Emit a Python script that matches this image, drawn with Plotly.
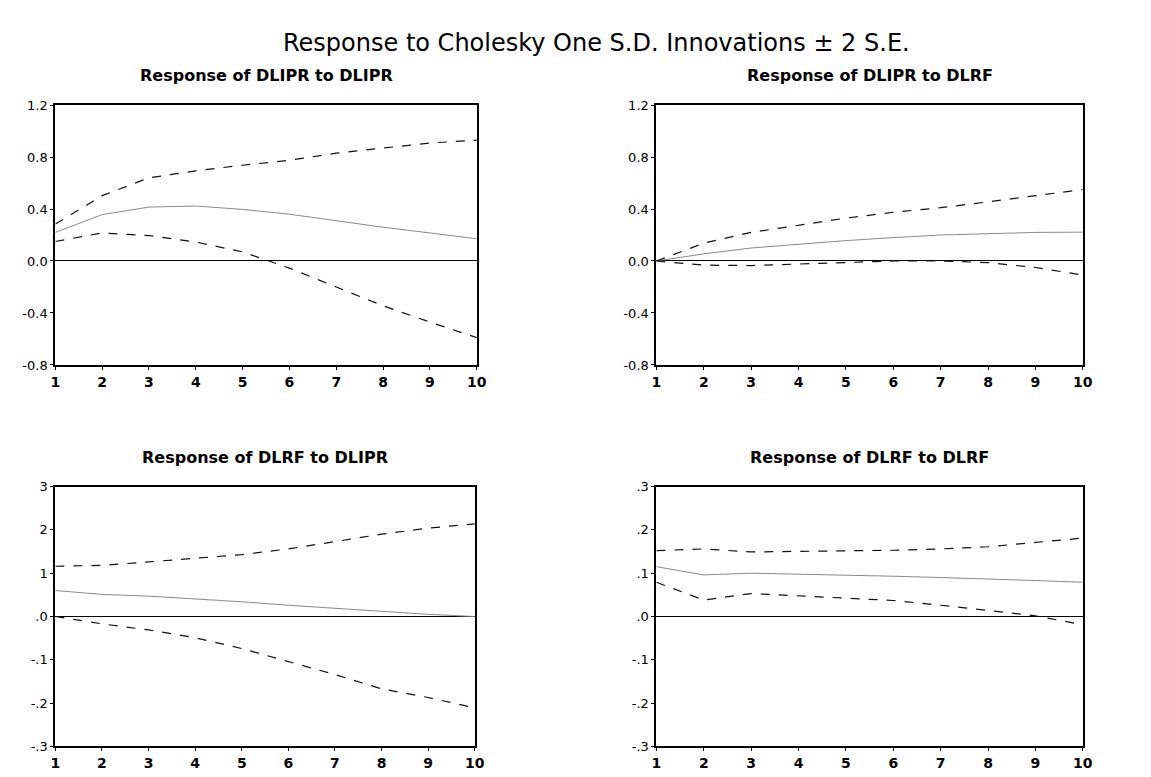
import plotly.graph_objects as go

W, H = 1151, 777
periods = list(range(1, 11))

# Response of DLIPR to DLIPR
ipr_ipr_up = [0.284, 0.503, 0.64, 0.694, 0.737, 0.775, 0.83, 0.868, 0.908, 0.93]
ipr_ipr_mid = [0.22, 0.357, 0.415, 0.423, 0.397, 0.36, 0.31, 0.26, 0.216, 0.171]
ipr_ipr_lo = [0.15, 0.216, 0.196, 0.146, 0.07, -0.055, -0.2, -0.345, -0.47, -0.59]

# Response of DLIPR to DLRF
ipr_rf_up = [0.0, 0.137, 0.22, 0.275, 0.33, 0.375, 0.41, 0.455, 0.5, 0.55]
ipr_rf_mid = [0.0, 0.055, 0.1, 0.13, 0.157, 0.18, 0.2, 0.21, 0.22, 0.222]
ipr_rf_lo = [0.0, -0.032, -0.035, -0.025, -0.01, 0.0, 0.0, -0.012, -0.05, -0.108]

# Response of DLRF to DLIPR
rf_ipr_up = [0.116, 0.118, 0.126, 0.134, 0.143, 0.156, 0.173, 0.19, 0.204, 0.214]
rf_ipr_mid = [0.06, 0.051, 0.047, 0.041, 0.034, 0.026, 0.019, 0.011, 0.005, 0.0]
rf_ipr_lo = [0.0, -0.017, -0.031, -0.049, -0.074, -0.104, -0.134, -0.167, -0.187, -0.211]

# Response of DLRF to DLRF
rf_rf_up = [0.152, 0.156, 0.149, 0.15, 0.151, 0.153, 0.156, 0.161, 0.171, 0.181]
rf_rf_mid = [0.115, 0.096, 0.1, 0.098, 0.096, 0.093, 0.09, 0.087, 0.083, 0.079]
rf_rf_lo = [0.079, 0.038, 0.053, 0.048, 0.043, 0.037, 0.026, 0.013, 0.0015, -0.019]

top_ticks = [1.2, 0.8, 0.4, 0.0, -0.4, -0.8]
top_ticktext = ["1.2", "0.8", "0.4", "0.0", "-0.4", "-0.8"]
bot_ticks = [0.3, 0.2, 0.1, 0.0, -0.1, -0.2, -0.3]
bl_ticktext = ["3", "2", "1", ".0", "-.1", "-.2", "-.3"]
br_ticktext = [".3", ".2", ".1", ".0", "-.1", "-.2", "-.3"]

titles = ["Response of DLIPR to DLIPR", "Response of DLIPR to DLRF",
          "Response of DLRF to DLIPR", "Response of DLRF to DLRF"]

panels = [
    (ipr_ipr_up, ipr_ipr_mid, ipr_ipr_lo, top_ticks, top_ticktext, [-0.8, 1.2], (51, 478), (100, 365)),
    (ipr_rf_up, ipr_rf_mid, ipr_rf_lo, top_ticks, top_ticktext, [-0.8, 1.2], (660, 1092), (100, 365)),
    (rf_ipr_up, rf_ipr_mid, rf_ipr_lo, bot_ticks, bl_ticktext, [-0.3, 0.3], (51, 476), (489, 754)),
    (rf_rf_up, rf_rf_mid, rf_rf_lo, bot_ticks, br_ticktext, [-0.3, 0.3], (660, 1092), (489, 754)),
]

fig = go.Figure()
font_family = "DejaVu Sans, Liberation Sans, Arial, sans-serif"
annotations = []
for i, (up, mid, lo, tv, tt, yr, (x0, x1), (y0, y1)) in enumerate(panels):
    n = i + 1
    xa = "x" if n == 1 else f"x{n}"
    ya = "y" if n == 1 else f"y{n}"
    fig.add_trace(go.Scatter(x=periods, y=mid, mode="lines", xaxis=xa, yaxis=ya,
                             line=dict(color="#8a8a8a", width=1), showlegend=False))
    for s in (up, lo):
        fig.add_trace(go.Scatter(x=periods, y=s, mode="lines", xaxis=xa, yaxis=ya,
                                 line=dict(color="#111111", width=1.2, dash="dash"), showlegend=False))
    xdom = [x0 / W, x1 / W]
    ydom = [(H - y1) / H, (H - y0) / H]
    xkey = "xaxis" if n == 1 else f"xaxis{n}"
    ykey = "yaxis" if n == 1 else f"yaxis{n}"
    fig.layout[xkey] = dict(domain=xdom, range=[1, 10], tickvals=periods,
                           ticktext=["<b>" + str(p) + "</b>" for p in periods],
                           anchor=ya, showline=True, linecolor="black", linewidth=2, mirror=True,
                           ticks="outside", ticklen=3, tickcolor="black", showgrid=False, zeroline=False,
                           tickfont=dict(family=font_family, size=14, color="black"))
    fig.layout[ykey] = dict(domain=ydom, range=yr, tickvals=tv, ticktext=tt,
                           anchor=xa, showline=True, linecolor="black", linewidth=2, mirror=True,
                           ticks="outside", ticklen=3, tickcolor="black", showgrid=False,
                           zeroline=True, zerolinecolor="black", zerolinewidth=1.2,
                           tickfont=dict(family=font_family, size=13, color="black"))
    annotations.append(dict(text="<b>" + titles[i] + "</b>", x=(x0 + x1) / 2 / W, y=(H - y0 + 18) / H,
                            xref="paper", yref="paper", showarrow=False, xanchor="center", yanchor="bottom",
                            font=dict(family=font_family, size=16, color="black")))

annotations.append(dict(text="Response to Cholesky One S.D. Innovations ± 2 S.E.", x=0.521, y=(H - 37) / H,
                        xref="paper", yref="paper", showarrow=False, xanchor="center", yanchor="middle",
                        font=dict(family=font_family, size=24, color="black")))

fig.update_layout(width=W, height=H, margin=dict(l=0, r=0, t=0, b=0), autosize=False,
                  paper_bgcolor="white", plot_bgcolor="white", annotations=annotations,
                  showlegend=False)

fig.write_html("out.html")
